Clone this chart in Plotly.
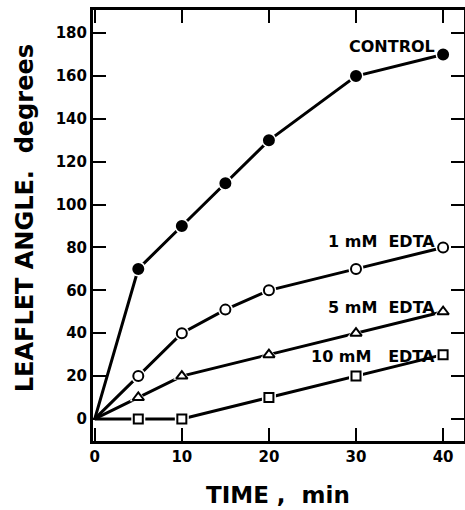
import plotly.graph_objects as go

time = [0, 5, 10, 15, 20, 30, 40]
control = [0, 70, 90, 110, 130, 160, 170]
edta1_t = [0, 5, 10, 15, 20, 30, 40]
edta1 = [0, 20, 40, 51, 60, 70, 80]
edta5_t = [0, 5, 10, 20, 30, 40]
edta5 = [0, 10, 20, 30, 40, 50]
edta10_t = [0, 5, 10, 20, 30, 40]
edta10 = [0, 0, 0, 10, 20, 30]

x_ticks = [0, 10, 20, 30, 40]
y_ticks = [0, 20, 40, 60, 80, 100, 120, 140, 160, 180]

FONT = "DejaVu Sans"

fig = go.Figure()

series = [
    (time, control, "circle", "black", 10),
    (edta1_t, edta1, "circle", "white", 10),
    (edta5_t, edta5, "triangle-up", "white", 10),
    (edta10_t, edta10, "square", "white", 9),
]

for xs, ys, sym, fill, sz in series:
    fig.add_trace(go.Scatter(x=xs, y=ys, mode="lines",
                             line=dict(color="black", width=3),
                             hoverinfo="skip", showlegend=False))
    # white halo to create small gap between line and marker
    fig.add_trace(go.Scatter(x=xs[1:], y=ys[1:], mode="markers",
                             marker=dict(symbol=sym, size=sz + 5, color="white",
                                         line=dict(width=0)),
                             hoverinfo="skip", showlegend=False))
    fig.add_trace(go.Scatter(x=xs[1:], y=ys[1:], mode="markers",
                             marker=dict(symbol=sym, size=sz, color=fill,
                                         line=dict(color="black", width=2)),
                             showlegend=False))

labels = [
    ("CONTROL", 173.6),
    ("1\u00a0mM\u00a0\u00a0EDTA", 82.6),
    ("5\u00a0mM\u00a0\u00a0EDTA", 51.8),
    ("10\u00a0mM\u00a0\u00a0\u00a0EDTA", 28.9),
]
for txt, yy in labels:
    fig.add_annotation(x=39.3, y=yy, xref="x", yref="y", text=txt,
                       showarrow=False, xanchor="right", yanchor="middle",
                       font=dict(family=FONT, size=16, color="black", weight="bold"))

fig.add_annotation(x=-0.183, y=0.517, xref="paper", yref="paper",
                   text="LEAFLET ANGLE.\u00a0\u00a0degrees", textangle=-90,
                   showarrow=False, xanchor="center", yanchor="middle",
                   font=dict(family=FONT, size=24, color="black", weight="bold"))
fig.add_annotation(x=0.4987, y=-0.125, xref="paper", yref="paper",
                   text="TIME\u00a0,\u00a0\u00a0min",
                   showarrow=False, xanchor="center", yanchor="middle",
                   font=dict(family=FONT, size=23, color="black", weight="bold"))

axis_common = dict(showgrid=False, zeroline=False, showline=True,
                   linecolor="black", linewidth=3, mirror="ticks",
                   ticks="inside", ticklen=13, tickwidth=2, tickcolor="black",
                   automargin=False,
                   tickfont=dict(family=FONT, size=15, color="black", weight="bold"))

fig.update_xaxes(range=[-0.2, 42.4], tickvals=x_ticks, **axis_common)
fig.update_yaxes(range=[-10.3, 190.8], tickvals=y_ticks, **axis_common)

fig.update_layout(width=465, height=510,
                  margin=dict(l=93, r=1, t=10, b=69),
                  paper_bgcolor="white", plot_bgcolor="white")

fig.write_html("out.html", config={"displayModeBar": False},
               post_script="document.body.style.margin='0';document.body.style.overflow='hidden';")
